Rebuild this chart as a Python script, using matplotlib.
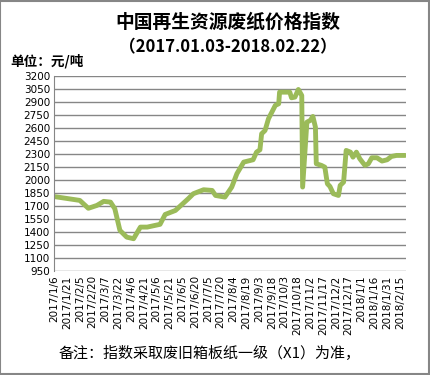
import numpy as np
import pandas as pd
import matplotlib
matplotlib.use('Agg')
import matplotlib.pyplot as plt
from matplotlib.patches import Rectangle

plt.rcParams['font.family'] = ['Noto Sans CJK SC', 'DejaVu Sans']

# 日期与价格（元/吨）
dates = ['2017-01-06', '2017-01-13', '2017-02-05', '2017-02-15', '2017-02-25',
         '2017-03-05', '2017-03-13', '2017-03-18', '2017-03-24', '2017-04-01',
         '2017-04-09', '2017-04-17', '2017-04-25', '2017-05-10', '2017-05-16',
         '2017-05-28', '2017-06-12', '2017-06-18', '2017-06-30', '2017-07-10',
         '2017-07-14', '2017-07-25', '2017-08-02', '2017-08-08', '2017-08-16',
         '2017-08-27', '2017-08-31', '2017-09-04', '2017-09-06', '2017-09-10',
         '2017-09-14', '2017-09-18', '2017-09-22', '2017-09-26', '2017-09-27',
         '2017-10-09', '2017-10-11', '2017-10-15', '2017-10-19', '2017-10-23',
         '2017-10-24', '2017-10-29', '2017-11-02', '2017-11-05', '2017-11-08',
         '2017-11-09', '2017-11-15', '2017-11-19', '2017-11-22', '2017-11-25',
         '2017-11-29', '2017-12-05', '2017-12-07', '2017-12-11', '2017-12-14',
         '2017-12-19', '2017-12-22', '2017-12-26', '2017-12-30', '2018-01-05',
         '2018-01-09', '2018-01-13', '2018-01-19', '2018-01-25', '2018-01-31',
         '2018-02-05', '2018-02-11', '2018-02-21']
prices = [1810, 1800, 1766, 1675, 1708,
          1755, 1746, 1670, 1420, 1342,
          1324, 1458, 1458, 1490, 1604,
          1650, 1785, 1843, 1889, 1881,
          1823, 1804, 1920, 2074, 2208,
          2235, 2323, 2350, 2535, 2573,
          2708, 2785, 2862, 2881, 3015,
          3015, 2950, 2958, 3046, 2977,
          1920, 2669, 2689, 2735, 2612,
          2189, 2170, 2150, 1958, 1927,
          1843, 1823, 1939, 1977, 2343,
          2323, 2265, 2323, 2246, 2170,
          2189, 2258, 2258, 2220, 2235,
          2273, 2285, 2285]

x = pd.to_datetime(dates)
yticks = np.arange(950, 3201, 150)
xticks = pd.date_range('2017-01-06', '2018-02-15', freq='15D')
xlabels = [f'{d.year}/{d.month}/{d.day}' for d in xticks]

fig = plt.figure(figsize=(4.3, 3.75), dpi=100)
ax = fig.add_axes([0.126, 0.277, 0.818, 0.52])

ax.plot(x, prices, color='#9BBB59', lw=3.5, solid_joinstyle='round', solid_capstyle='round')

ax.set_ylim(950, 3200)
ax.set_yticks(yticks)
ax.set_yticklabels([str(v) for v in yticks], family='DejaVu Sans', fontsize=7.5)
ax.set_xlim(pd.Timestamp('2017-01-06'), pd.Timestamp('2018-02-22'))
ax.set_xticks(xticks)
ax.set_xticklabels(xlabels, rotation=90, family='DejaVu Sans', fontsize=7.5)
ax.tick_params(length=0, pad=3)
ax.grid(axis='y', color='#868686', lw=1)
ax.set_axisbelow(True)
for s in ['top', 'right', 'bottom']:
    ax.spines[s].set_visible(False)
ax.spines['left'].set_color('#868686')

fig.text(0.53, 0.94, '中国再生资源废纸价格指数', ha='center', va='center',
         fontsize=13.5, fontweight='bold')
fig.text(0.53, 0.873, '（2017.01.03-2018.02.22）', ha='center', va='center',
         fontsize=12, fontweight='bold')
fig.text(0.023, 0.838, '单位：元/吨', ha='left', va='center', fontsize=9.8, fontweight='bold')
fig.text(0.137, 0.058, '备注：指数采取废旧箱板纸一级（X1）为准，', ha='left', va='center',
         fontsize=10.8)

fig.patches.append(Rectangle((0.001, 0.002), 0.996, 0.995, transform=fig.transFigure,
                             fill=False, edgecolor='#868686', lw=1.5))

fig.savefig('out.png', dpi=100)
